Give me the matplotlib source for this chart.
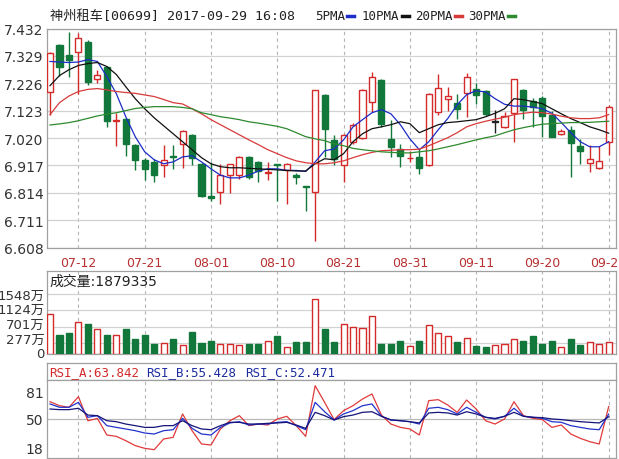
import matplotlib
matplotlib.use('Agg')
import matplotlib.pyplot as plt
from matplotlib.lines import Line2D
from matplotlib.transforms import ScaledTranslation
import numpy as np

plt.rcParams['font.family'] = ['DejaVu Sans', 'Noto Sans CJK SC']

# ---------------- data ----------------
dates = ["07-07", "07-10", "07-11", "07-12", "07-13", "07-14", "07-17", "07-18", "07-19", "07-20",
         "07-21", "07-24", "07-25", "07-26", "07-27", "07-28", "07-31", "08-01", "08-02", "08-03",
         "08-04", "08-07", "08-08", "08-09", "08-10", "08-11", "08-14", "08-15", "08-16", "08-17",
         "08-18", "08-21", "08-22", "08-24", "08-25", "08-28", "08-29", "08-30", "08-31", "09-01",
         "09-04", "09-05", "09-06", "09-07", "09-08", "09-11", "09-12", "09-13", "09-14", "09-15",
         "09-18", "09-19", "09-20", "09-21", "09-22", "09-25", "09-26", "09-27", "09-28", "09-29"]
tick_dates = ["07-12", "07-21", "08-01", "08-10", "08-21", "08-31", "09-11", "09-20", "09-29"]

opens = [7.194, 7.370, 7.334, 7.345, 7.383, 7.243, 7.289, 7.085, 7.090, 6.993,
         6.939, 6.930, 6.920, 6.953, 6.998, 7.030, 6.923, 6.802, 6.817, 6.882,
         6.881, 6.949, 6.930, 6.889, 6.923, 6.898, 6.881, 6.840, 6.817, 7.181,
         7.011, 6.917, 7.006, 7.021, 7.157, 7.240, 7.017, 6.979, 6.943, 6.949,
         6.917, 7.119, 7.168, 7.153, 7.191, 7.206, 7.198, 7.081, 7.062, 7.115,
         7.200, 7.160, 7.172, 7.108, 7.036, 7.051, 6.991, 6.925, 6.906, 7.006]
highs = [7.342, 7.372, 7.417, 7.415, 7.387, 7.274, 7.292, 7.115, 7.096, 6.998,
         6.945, 6.942, 6.993, 6.994, 7.051, 7.036, 6.926, 6.930, 6.924, 6.923,
         6.953, 6.953, 6.934, 6.930, 6.923, 6.926, 6.889, 6.840, 7.202, 7.187,
         7.032, 7.036, 7.077, 7.206, 7.270, 7.243, 7.089, 6.998, 6.972, 6.979,
         7.191, 7.262, 7.213, 7.187, 7.266, 7.228, 7.202, 7.126, 7.119, 7.243,
         7.206, 7.172, 7.179, 7.123, 7.055, 7.066, 7.017, 6.992, 6.991, 7.145]
lows = [7.108, 7.255, 7.251, 7.187, 7.221, 7.228, 7.062, 6.991, 6.953, 6.899,
        6.861, 6.855, 6.874, 6.904, 6.906, 6.919, 6.798, 6.783, 6.773, 6.814,
        6.866, 6.866, 6.855, 6.861, 6.783, 6.772, 6.847, 6.747, 6.634, 6.949,
        6.919, 6.855, 6.998, 7.017, 7.119, 7.062, 6.949, 6.911, 6.930, 6.885,
        6.915, 7.108, 7.123, 7.092, 7.100, 7.149, 7.104, 7.040, 7.059, 7.006,
        7.092, 7.062, 7.025, 7.025, 7.032, 6.874, 6.923, 6.892, 6.904, 6.955]
closes = [7.340, 7.289, 7.313, 7.396, 7.232, 7.258, 7.085, 7.089, 6.997, 6.937,
          6.905, 6.882, 6.937, 6.950, 7.047, 6.945, 6.802, 6.794, 6.880, 6.922,
          6.949, 6.874, 6.896, 6.892, 6.919, 6.923, 6.874, 6.834, 7.200, 7.055,
          6.942, 7.030, 7.070, 7.200, 7.251, 7.074, 6.987, 6.953, 6.945, 6.906,
          7.187, 7.208, 7.179, 7.128, 7.251, 7.183, 7.111, 7.081, 7.104, 7.241,
          7.124, 7.138, 7.104, 7.025, 7.047, 7.002, 6.972, 6.940, 6.932, 7.138]

ma5 = [7.308, 7.306, 7.304, 7.306, 7.315, 7.308, 7.251, 7.187, 7.100, 7.025,
       6.968, 6.938, 6.923, 6.930, 6.949, 6.953, 6.930, 6.904, 6.880, 6.870,
       6.870, 6.880, 6.896, 6.904, 6.904, 6.898, 6.898, 6.894, 6.930, 6.972,
       6.979, 7.013, 7.062, 7.089, 7.115, 7.127, 7.111, 7.070, 7.017, 6.976,
       7.006, 7.051, 7.093, 7.145, 7.183, 7.198, 7.193, 7.168, 7.147, 7.140,
       7.140, 7.136, 7.130, 7.113, 7.078, 7.040, 7.006, 6.987, 6.987, 7.006]
ma10 = [7.217, 7.255, 7.277, 7.293, 7.300, 7.304, 7.289, 7.259, 7.213, 7.168,
        7.130, 7.096, 7.066, 7.036, 7.006, 6.976, 6.946, 6.923, 6.912, 6.908,
        6.908, 6.906, 6.904, 6.902, 6.900, 6.898, 6.896, 6.896, 6.923, 6.942,
        6.938, 6.961, 7.006, 7.036, 7.055, 7.062, 7.070, 7.081, 7.074, 7.040,
        7.055, 7.070, 7.078, 7.081, 7.085, 7.089, 7.100, 7.113, 7.130, 7.168,
        7.164, 7.157, 7.149, 7.130, 7.111, 7.093, 7.078, 7.062, 7.051, 7.038]
ma20 = [7.108, 7.153, 7.178, 7.195, 7.203, 7.206, 7.201, 7.195, 7.191, 7.188,
        7.182, 7.176, 7.165, 7.153, 7.148, 7.130, 7.111, 7.089, 7.070, 7.051,
        7.032, 7.013, 6.995, 6.976, 6.961, 6.946, 6.934, 6.927, 6.923, 6.923,
        6.927, 6.934, 6.946, 6.957, 6.966, 6.972, 6.974, 6.976, 6.976, 6.978,
        6.991, 7.006, 7.021, 7.040, 7.062, 7.074, 7.083, 7.091, 7.098, 7.108,
        7.113, 7.117, 7.115, 7.110, 7.102, 7.096, 7.093, 7.093, 7.096, 7.108]
ma30 = [7.069, 7.073, 7.078, 7.085, 7.094, 7.103, 7.110, 7.115, 7.123, 7.131,
        7.135, 7.138, 7.138, 7.138, 7.135, 7.130, 7.115, 7.108, 7.100, 7.095,
        7.089, 7.081, 7.076, 7.070, 7.064, 7.055, 7.040, 7.025, 7.017, 7.010,
        6.998, 6.991, 6.981, 6.976, 6.972, 6.968, 6.966, 6.964, 6.964, 6.968,
        6.972, 6.979, 6.987, 6.995, 7.004, 7.013, 7.021, 7.028, 7.040, 7.051,
        7.059, 7.066, 7.072, 7.074, 7.076, 7.078, 7.078, 7.079, 7.081, 7.083]

volumes = [1033, 480, 525, 810, 774, 640, 480, 472, 650, 374,
           472, 240, 285, 374, 213, 570, 285, 338, 250, 250,
           213, 240, 240, 338, 445, 178, 311, 302, 1414, 640,
           302, 765, 702, 676, 970, 240, 240, 338, 205, 338,
           738, 534, 445, 302, 410, 205, 178, 231, 240, 374,
           338, 445, 240, 338, 178, 374, 213, 311, 240, 311]
vol_ticks = [0, 277, 701, 1124, 1548]
vol_labels = ["0", "277万", "701万", "1124万", "1548万"]
last_volume = 1879335

rsi_a = [69.2, 64.8, 63.0, 74.8, 48.0, 50.7, 32.2, 30.7, 25.9, 20.4,
         17.4, 15.9, 27.8, 29.6, 55.6, 37.0, 22.2, 21.1, 38.9, 48.1,
         53.7, 42.6, 44.4, 43.3, 50.0, 53.0, 42.6, 30.7, 87.0, 68.5,
         49.3, 59.3, 64.8, 72.2, 77.8, 54.4, 44.4, 40.7, 38.9, 32.2,
         70.4, 71.5, 65.6, 57.4, 71.1, 61.1, 48.1, 44.4, 50.0, 69.2,
         53.7, 50.7, 49.3, 40.7, 43.3, 33.3, 28.5, 24.8, 22.2, 63.842]
rsi_b = [66.7, 63.0, 63.0, 68.5, 51.9, 53.7, 42.6, 40.7, 38.9, 37.0,
         34.4, 33.3, 37.0, 38.1, 50.7, 39.6, 33.3, 32.2, 40.7, 45.6,
         47.0, 43.3, 44.4, 44.4, 46.3, 47.0, 42.6, 38.1, 68.5, 58.1,
         48.9, 55.6, 59.3, 64.8, 66.7, 53.0, 48.9, 48.1, 47.0, 44.4,
         61.9, 63.0, 60.4, 55.6, 63.0, 57.4, 51.9, 50.0, 53.0, 61.9,
         53.0, 51.9, 50.7, 47.0, 46.3, 42.6, 40.7, 38.9, 38.1, 55.428]
rsi_c = [61.1, 60.4, 60.4, 61.9, 54.4, 53.7, 48.1, 47.0, 44.4, 42.6,
         40.7, 40.7, 42.6, 42.6, 48.1, 42.6, 38.9, 38.1, 42.6, 46.3,
         46.3, 44.4, 44.4, 45.2, 45.6, 46.3, 43.3, 39.6, 57.4, 53.7,
         48.9, 52.6, 54.4, 57.4, 58.1, 53.0, 48.9, 48.1, 47.0, 45.6,
         56.7, 57.4, 56.7, 54.4, 58.1, 55.6, 51.9, 50.7, 53.0, 57.4,
         53.0, 51.9, 51.5, 50.0, 49.3, 48.1, 47.0, 46.3, 45.6, 52.471]
rsi_ticks = [18, 50, 81]

price_ticks = [6.608, 6.711, 6.814, 6.917, 7.020, 7.123, 7.226, 7.329, 7.432]

# ---------------- styling ----------------
RED = '#d42a2a'
GREEN = '#12773a'
FRAME = '#a0a0a0'
GRID = '#d2d2d2'
VGRID = '#b4b4b4'
MA_COLORS = ['#1c2cc8', '#111111', '#d83a3a', '#2e8a2e']

W, H = 619, 460
fig = plt.figure(figsize=(W / 100, H / 100), dpi=100)
fig.patch.set_facecolor('white')


def rect(l, t, r, b):
    return [l / W, 1 - b / H, (r - l) / W, (b - t) / H]


ax = fig.add_axes(rect(47, 29.5, 615.5, 248.5))
axv = fig.add_axes(rect(47, 271.5, 615.5, 354.5))
axh = fig.add_axes(rect(47, 363.5, 615.5, 380.5))
axr = fig.add_axes(rect(47, 380.5, 615.5, 458.5))

x = np.arange(len(dates))
tick_pos = [dates.index(d) for d in tick_dates]
XLIM = (-0.32, 59.72)

for a in (ax, axv, axh, axr):
    for s in a.spines.values():
        s.set_color(FRAME)
        s.set_linewidth(0.9)
    a.set_xlim(*XLIM)
    a.set_facecolor('white')

o = np.array(opens); c = np.array(closes)
hi = np.array(highs); lo = np.array(lows)
up = c >= o
doji = np.isclose(c, o)
edge = np.where(doji, '#222222', np.where(up, RED, GREEN))
face = np.where(up, 'white', GREEN)
face = np.where(doji, '#222222', face)
bottoms = np.minimum(o, c)
heights = np.maximum(np.abs(c - o), 0.0012)

ax.vlines(x, lo, hi, colors=edge, linewidth=1.0, zorder=2)
ax.bar(x, heights, bottom=bottoms, width=0.64, color=face, edgecolor=edge,
       linewidth=1.0, zorder=3)
for ma, col in zip([ma5, ma10, ma20, ma30], MA_COLORS):
    ax.plot(x, ma, color=col, linewidth=0.9, zorder=4)

ax.set_ylim(price_ticks[0], price_ticks[-1])
ax.set_yticks(price_ticks)
ax.set_yticklabels([f"{v:.3f}" for v in price_ticks], fontsize=10, color='#333333')
ax.set_xticks(tick_pos)
ax.set_xticklabels(tick_dates, fontsize=9, color='#b83030')
ax.tick_params(axis='both', length=0)
ax.tick_params(axis='y', pad=2.5)
ax.tick_params(axis='x', pad=6)
ax.grid(axis='y', color=GRID, linewidth=0.9)
ax.grid(axis='x', color=VGRID, linewidth=0.8, linestyle=(0, (3, 3)))
ax.set_axisbelow(True)

# volume
vcol = np.where(up, RED, GREEN)
vface = np.where(up, 'white', GREEN)
axv.bar(x, volumes, width=0.64, color=vface, edgecolor=vcol, linewidth=1.0, zorder=3)
axv.set_ylim(0, 2160)
axv.set_yticks(vol_ticks)
axv.set_yticklabels(vol_labels, fontsize=9.5, color='#333333')
axv.set_xticks(tick_pos)
axv.set_xticklabels([])
axv.tick_params(axis='both', length=0)
axv.tick_params(axis='y', pad=1.5)
axv.grid(axis='y', color=GRID, linewidth=0.9)
axv.grid(axis='x', color=VGRID, linewidth=0.8, linestyle=(0, (3, 3)))
axv.set_axisbelow(True)
# nudge the lower labels upward slightly, as in the reference
for lbl, dy in zip(axv.get_yticklabels(), [1.0, 3.5, 2.5, 1.5, 0.0]):
    lbl.set_transform(lbl.get_transform() + ScaledTranslation(0, dy / 72, fig.dpi_scale_trans))
axv.text(0.005, 0.87, f"成交量:{last_volume}", transform=axv.transAxes,
         ha='left', va='center', fontsize=10, color='#222222')

# RSI header
axh.set_xticks([]); axh.set_yticks([])
hdr = [("RSI_A:%.3f" % rsi_a[-1], '#d42a2a', 49),
       ("RSI_B:%.3f" % rsi_b[-1], '#1c2ca0', 146),
       ("RSI_C:%.3f" % rsi_c[-1], '#1c2ca0', 245)]
for txt, col, px in hdr:
    axh.text((px - 47) / 568.5, 0.45, txt, transform=axh.transAxes, ha='left',
             va='center', fontsize=9, color=col, family='DejaVu Sans Mono')

# RSI
axr.plot(x, rsi_a, color='#e03a3a', linewidth=0.9, zorder=4)
axr.plot(x, rsi_b, color='#2233cc', linewidth=0.9, zorder=4)
axr.plot(x, rsi_c, color='#14147a', linewidth=0.9, zorder=4)
axr.axhline(50, color='#b8b8b8', linewidth=0.9, zorder=1)
axr.set_ylim(7.2, 93.9)
axr.set_yticks(rsi_ticks)
axr.set_yticklabels([str(v) for v in rsi_ticks], fontsize=10, color='#333333')
axr.set_xticks(tick_pos)
axr.set_xticklabels([])
axr.tick_params(axis='both', length=0)
axr.tick_params(axis='y', pad=2.5)
axr.grid(axis='x', color=VGRID, linewidth=0.8, linestyle=(0, (3, 3)))
axr.set_axisbelow(True)

# title + legend
fig.text(50 / W, 1 - 16 / H, "神州租车[00699] 2017-09-29 16:08", ha='left', va='center',
         fontsize=9.5, color='#222222', family=['DejaVu Sans Mono', 'Noto Sans CJK SC'])
leg = [("5PMA", 315, 347, MA_COLORS[0]), ("10PMA", 362, 402, MA_COLORS[1]),
       ("20PMA", 415, 455, MA_COLORS[2]), ("30PMA", 468, 508, MA_COLORS[3])]
for name, tx, dx, col in leg:
    fig.text(tx / W, 1 - 16 / H, name, ha='left', va='center', fontsize=9,
             color='#222222', family='DejaVu Sans Mono')
    fig.add_artist(Line2D([dx / W, (dx + 7) / W], [1 - 17 / H, 1 - 17 / H],
                          transform=fig.transFigure, color=col, linewidth=2.5))

fig.savefig('out.png', dpi=100, facecolor='white')
